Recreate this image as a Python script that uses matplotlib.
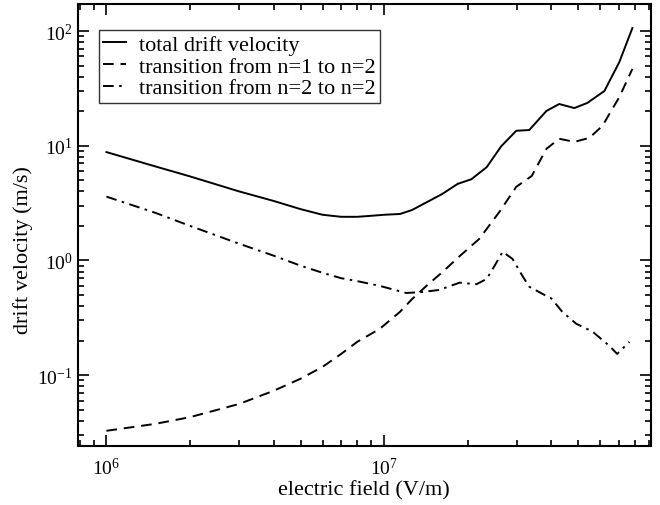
import matplotlib
matplotlib.use("Agg")
import matplotlib.pyplot as plt
from matplotlib.ticker import LogLocator, NullFormatter

plt.rcParams['font.family'] = ['Liberation Serif', 'DejaVu Serif']
plt.rcParams['mathtext.fontset'] = 'custom'
plt.rcParams['mathtext.rm'] = 'Liberation Serif'
plt.rcParams['mathtext.it'] = 'Liberation Serif:italic'
plt.rcParams['mathtext.bf'] = 'Liberation Serif:bold'

# electric field (V/m)
field_total = [1.0e6, 1.5e6, 2e6, 3e6, 4e6, 5e6, 6e6, 7e6, 8e6, 9e6, 1.0e7, 1.14e7, 1.26e7,
               1.62e7, 1.84e7, 2.06e7, 2.34e7, 2.64e7, 2.99e7, 3.33e7, 3.84e7, 4.27e7,
               4.84e7, 5.39e7, 6.21e7, 7.03e7, 7.83e7]
v_total = [8.8, 6.6, 5.4, 4.0, 3.3, 2.8, 2.5, 2.4, 2.4, 2.45, 2.5, 2.54, 2.75,
           3.8, 4.65, 5.1, 6.5, 9.9, 13.5, 13.7, 20.1, 23.1,
           21.3, 23.6, 30.0, 53.7, 106.0]

field_12 = [1.0e6, 1.5e6, 2e6, 3e6, 4e6, 5e6, 6e6, 7e6, 8e6, 9e6, 9.64e6, 1.14e7, 1.26e7,
            1.42e7, 1.62e7, 1.87e7, 2.2e7, 2.6e7, 2.99e7, 3.4e7, 3.84e7, 4.27e7,
            4.84e7, 5.48e7, 6.11e7, 7.03e7, 7.83e7]
v_12 = [0.0327, 0.0376, 0.043, 0.056, 0.073, 0.093, 0.118, 0.153, 0.195, 0.23, 0.253, 0.356, 0.46,
        0.60, 0.79, 1.09, 1.54, 2.65, 4.38, 5.45, 9.4, 11.5,
        10.8, 11.7, 14.9, 26.6, 46.7]

field_22 = [1.0e6, 1.5e6, 2e6, 3e6, 4e6, 5e6, 6e6, 7e6, 8e6, 9.64e6, 1.2e7, 1.37e7,
            1.58e7, 1.87e7, 2.15e7, 2.34e7, 2.5e7, 2.67e7, 2.9e7, 3.15e7, 3.33e7,
            3.72e7, 4.0e7, 4.38e7, 4.92e7, 5.62e7, 6.47e7, 6.9e7, 7.64e7]
v_22 = [3.6, 2.6, 2.0, 1.4, 1.1, 0.9, 0.78, 0.7, 0.66, 0.60, 0.52, 0.53,
        0.553, 0.64, 0.62, 0.69, 0.90, 1.19, 1.03, 0.73, 0.59,
        0.51, 0.466, 0.356, 0.28, 0.24, 0.18, 0.153, 0.195]

labels = ["total drift velocity", "transition from n=1 to n=2", "transition from n=2 to n=2"]

fig = plt.figure(figsize=(6.6, 5.06), dpi=100)
ax = fig.add_axes([78/660, 1-447/506, 572.5/660, 442/506])

lw = 1.4
ax.plot(field_total, v_total, color='black', lw=lw, linestyle='-', label=labels[0])
ax.plot(field_12, v_12, color='black', lw=lw, linestyle=(0, (5.5, 3.5)), label=labels[1])
ax.plot(field_22, v_22, color='black', lw=lw, linestyle=(0, (5.5, 2.8, 1.3, 2.8)), label=labels[2])

ax.set_xscale('log')
ax.set_yscale('log')
ax.set_xlim(7.9e5, 9.1e7)
ax.set_ylim(0.0241, 172)

ax.xaxis.set_major_locator(LogLocator(base=10, numticks=10))
ax.yaxis.set_major_locator(LogLocator(base=10, numticks=10))
ax.xaxis.set_minor_locator(LogLocator(base=10, subs=range(2, 10), numticks=20))
ax.yaxis.set_minor_locator(LogLocator(base=10, subs=range(2, 10), numticks=20))
ax.xaxis.set_minor_formatter(NullFormatter())
ax.yaxis.set_minor_formatter(NullFormatter())

ax.tick_params(which='both', direction='in', top=True, right=True, labelsize=14, width=1.2)
ax.tick_params(which='major', length=8)
ax.tick_params(which='minor', length=4)
ax.tick_params(axis='x', pad=8)
ax.tick_params(axis='y', pad=4)
for s in ax.spines.values():
    s.set_linewidth(1.5)

ax.set_xlabel("electric field (V/m)", fontsize=16, labelpad=1)
ax.set_ylabel("drift velocity (m/s)", fontsize=16)
ax.yaxis.set_label_coords(-0.078, 0.446)

leg = ax.legend(loc='upper left', bbox_to_anchor=(21/572.5, 1-26/442), fontsize=16,
                handlelength=1.0, handletextpad=0.6, borderpad=0.2, labelspacing=0.05,
                frameon=True, fancybox=False, borderaxespad=0)
leg.get_frame().set_edgecolor('black')
leg.get_frame().set_linewidth(1.0)

fig.savefig("out.png", dpi=100)
